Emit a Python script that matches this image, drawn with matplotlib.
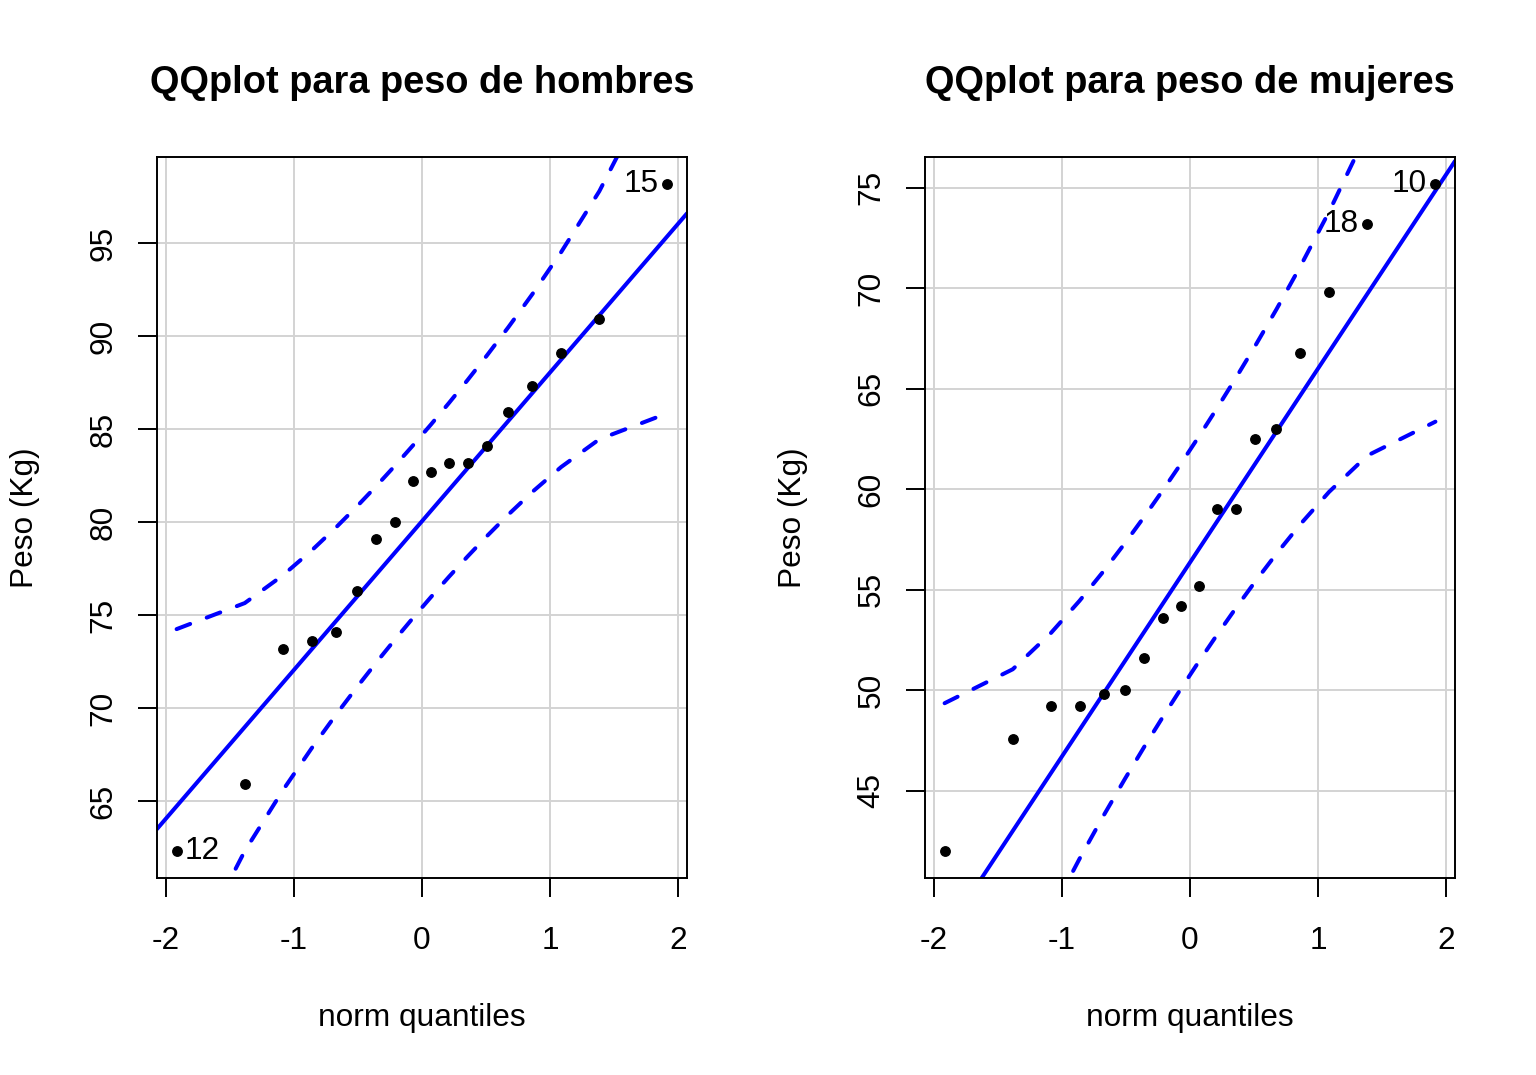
import numpy as np
import matplotlib
matplotlib.use('Agg')
import matplotlib.pyplot as plt
from statistics import NormalDist

plt.rcParams['font.family'] = ['Liberation Sans', 'DejaVu Sans']
plt.rcParams['axes.unicode_minus'] = False

# pesos (Kg), ordenados
peso_hombres = [62.3, 65.9, 73.2, 73.6, 74.1, 76.3, 79.1, 80.0, 82.2,
                82.7, 83.2, 83.2, 84.1, 85.9, 87.3, 89.1, 90.9, 98.2]
peso_mujeres = [42.0, 47.6, 49.2, 49.2, 49.8, 50.0, 51.6, 53.6, 54.2,
                55.2, 59.0, 59.0, 62.5, 63.0, 66.8, 69.8, 73.2, 75.2]

# etiqueta -> posicion en los datos ordenados
etiq_hombres = {'12': 0, '15': 17}
etiq_mujeres = {'18': 16, '10': 17}

xticks = [-2, -1, 0, 1, 2]
yticks_hombres = [65, 70, 75, 80, 85, 90, 95]
yticks_mujeres = [45, 50, 55, 60, 65, 70, 75]

nd = NormalDist()


def qqplot(ax, datos, titulo, etiquetas, yticks):
    y = np.sort(np.array(datos))
    n = len(y)
    P = (np.arange(1, n + 1) - 0.5) / n  # ppoints
    z = np.array([nd.inv_cdf(p) for p in P])
    # recta por los cuartiles (como car::qqPlot)
    q1, q3 = np.quantile(y, [0.25, 0.75])
    z1, z3 = nd.inv_cdf(0.25), nd.inv_cdf(0.75)
    b = (q3 - q1) / (z3 - z1)
    a = q1 - b * z1
    fit = a + b * z
    se = b / np.array([nd.pdf(v) for v in z]) * np.sqrt(P * (1 - P) / n)
    zz = nd.inv_cdf(0.975)

    xr = z.max() - z.min()
    yr = y.max() - y.min()
    ax.set_xlim(z.min() - 0.04 * xr, z.max() + 0.04 * xr)
    ax.set_ylim(y.min() - 0.04 * yr, y.max() + 0.04 * yr)
    ax.set_xticks(xticks)
    ax.set_yticks(yticks)
    ax.grid(True, color='#d3d3d3', lw=1.4, zorder=0)
    ax.set_axisbelow(True)

    xx = np.array(ax.get_xlim())
    ax.plot(xx, a + b * xx, color='blue', lw=2.9, solid_capstyle='round', zorder=2)
    for lim in (fit + zz * se, fit - zz * se):
        ax.plot(z, lim, color='blue', lw=2.9, ls=(0, (3.6, 4.4)),
                dash_capstyle='round', zorder=2)
    ax.plot(z, y, 'o', color='black', ms=6.8, zorder=3)

    for lab, i in etiquetas.items():
        if z[i] > 0:
            ax.annotate(lab, (z[i], y[i]), xytext=(-6, 0), textcoords='offset points',
                        ha='right', va='center', fontsize=22.8)
        else:
            ax.annotate(lab, (z[i], y[i]), xytext=(6, 0), textcoords='offset points',
                        ha='left', va='center', fontsize=22.8)

    for s in ax.spines.values():
        s.set_linewidth(1.4)
    ax.tick_params(length=13.7, width=1.4, labelsize=22.8, pad=14)
    ax.tick_params(axis='x', pad=21)
    plt.setp(ax.get_yticklabels(), rotation=90, va='center')

    ax.set_title(titulo, fontsize=27.4, fontweight='bold', y=1.103, pad=0, va='center')
    ax.set_xlabel('norm quantiles', fontsize=22.8, va='center')
    ax.xaxis.set_label_coords(0.5, -0.194)
    ax.set_ylabel('Peso (Kg)', fontsize=22.8, va='center')
    ax.yaxis.set_label_coords(-0.249, 0.5)


fig = plt.figure(figsize=(15.36, 10.75), dpi=100)
ax1 = fig.add_axes([0.1022, 0.1833, 0.3451, 0.6707])
ax2 = fig.add_axes([0.6022, 0.1833, 0.3451, 0.6707])

qqplot(ax1, peso_hombres, 'QQplot para peso de hombres', etiq_hombres, yticks_hombres)
qqplot(ax2, peso_mujeres, 'QQplot para peso de mujeres', etiq_mujeres, yticks_mujeres)

fig.savefig('out.png', dpi=100)
